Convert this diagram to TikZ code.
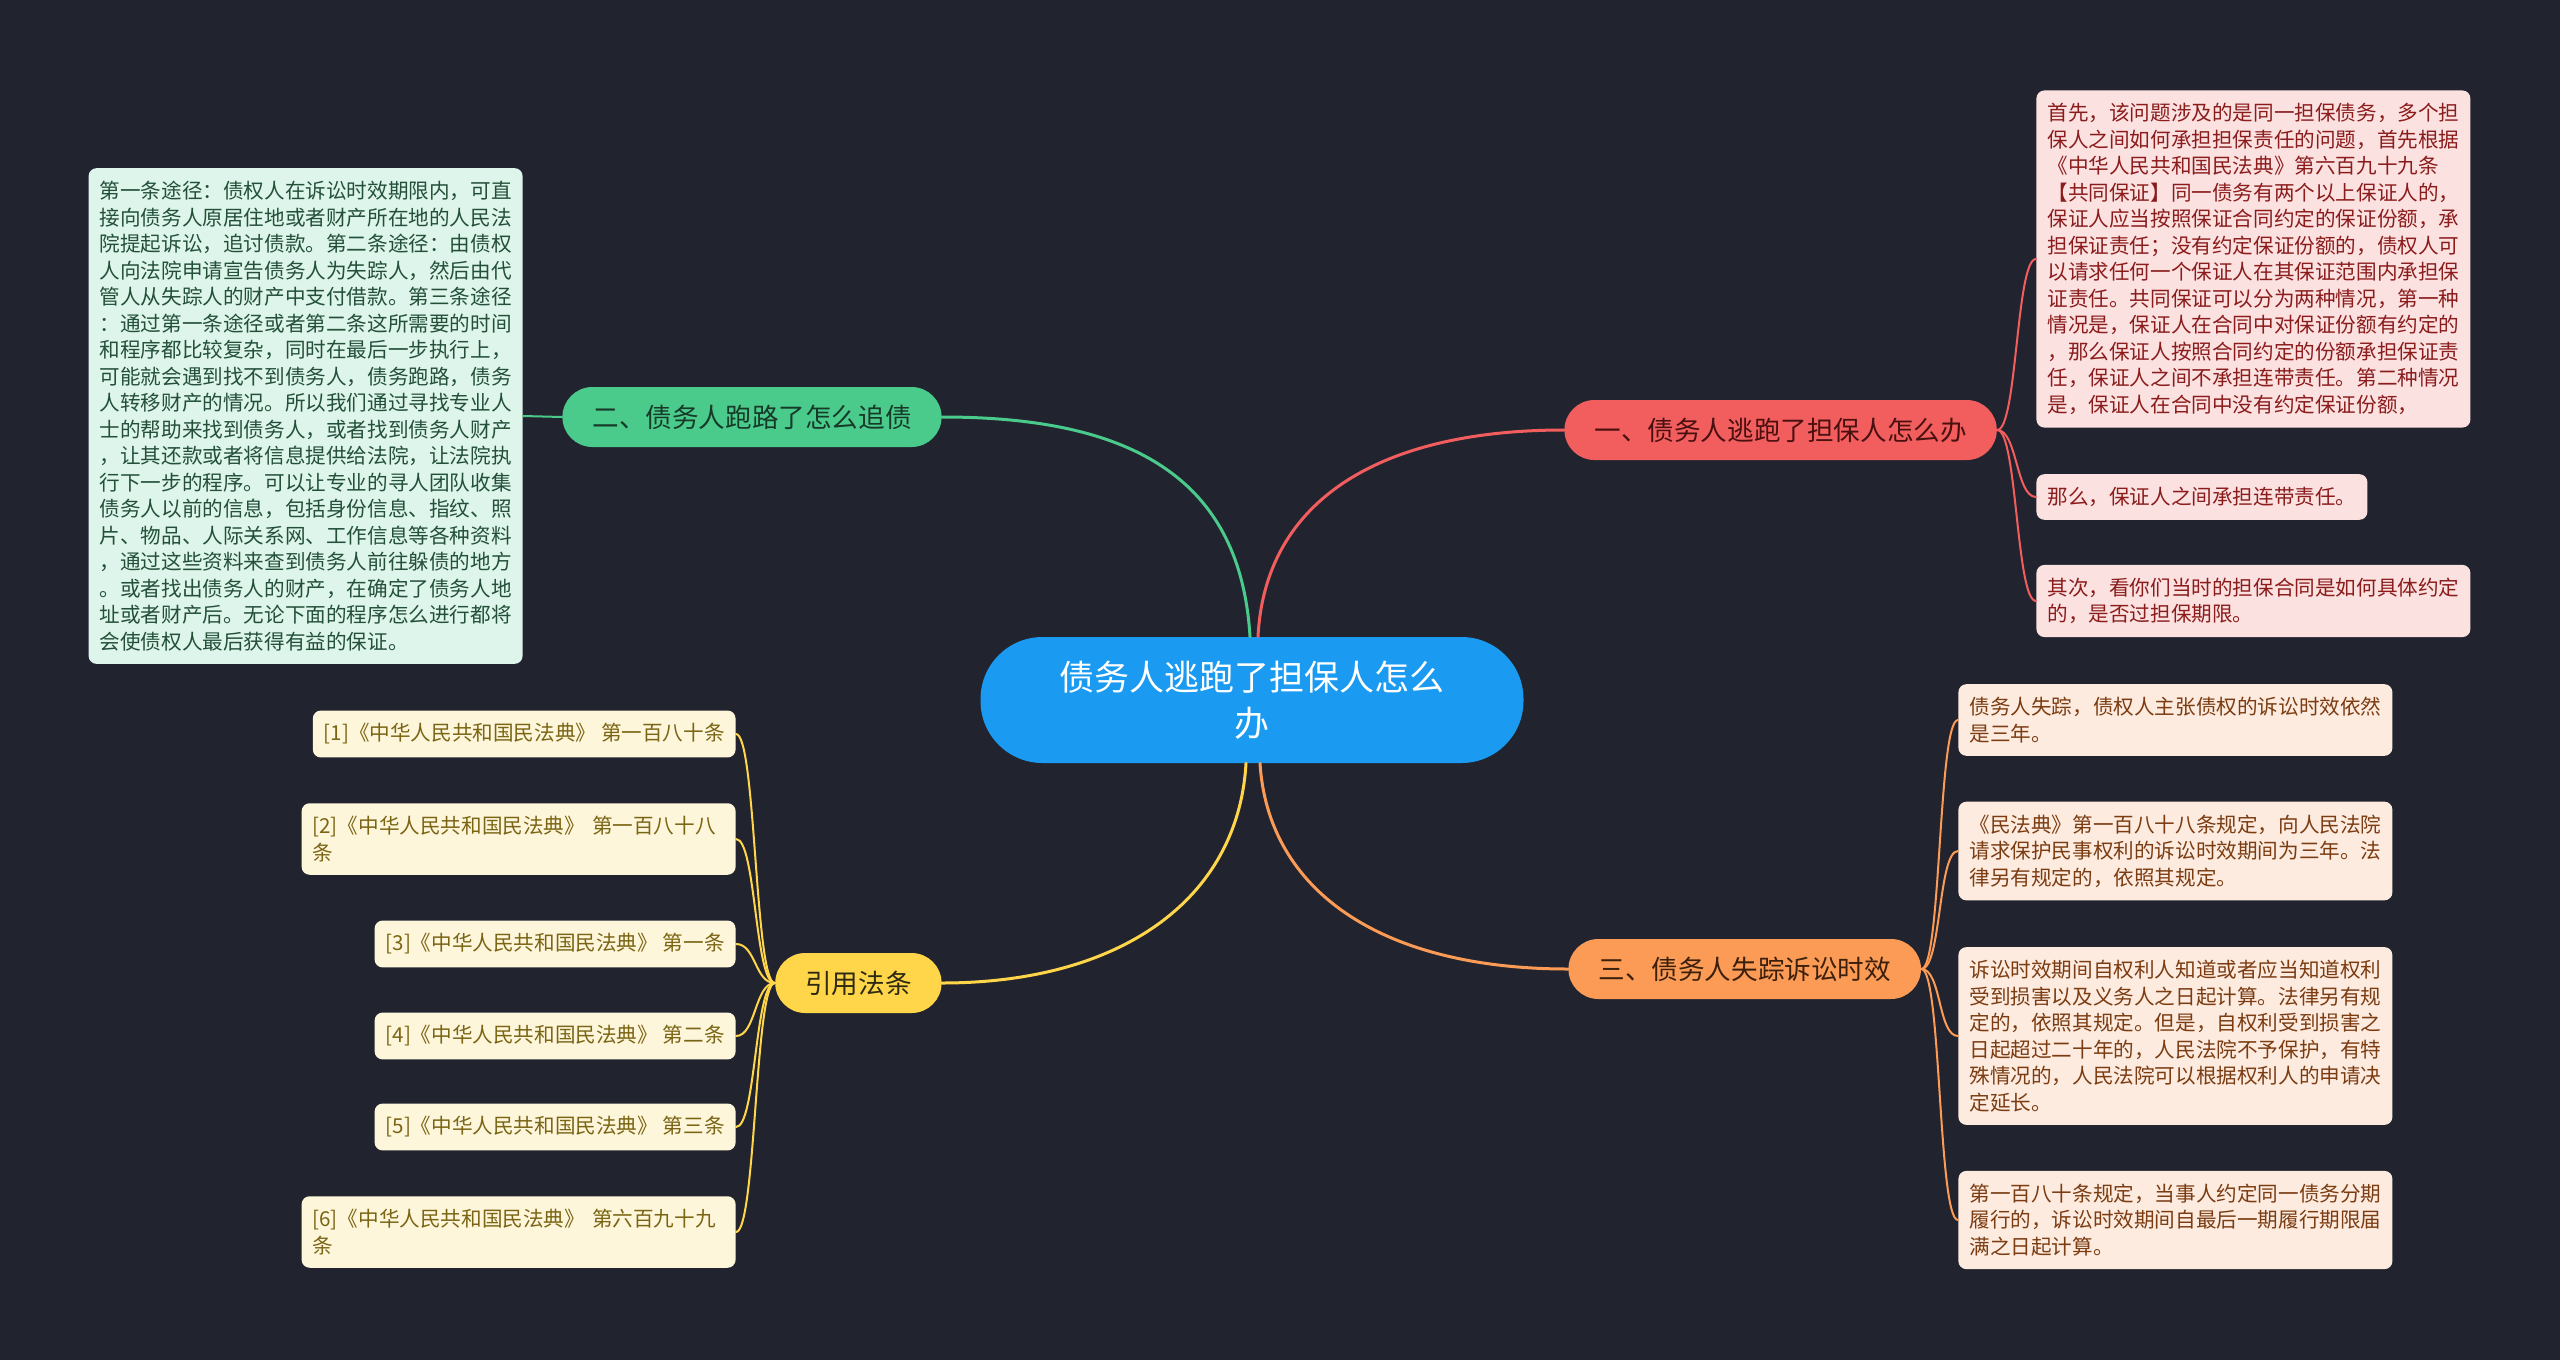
\documentclass[tikz,border=0pt]{standalone}
\usepackage{fontspec}
\setmainfont{Noto Sans CJK SC}
\usetikzlibrary{positioning}
\definecolor{mmbg}{HTML}{21242F}
\definecolor{mmblue}{HTML}{1A9AF0}
\definecolor{mmred}{HTML}{F25E5E}
\definecolor{mmredink}{HTML}{4A1010}
\definecolor{mmredleaf}{HTML}{FCE1E1}
\definecolor{mmredtext}{HTML}{8B1C1C}
\definecolor{mmgreen}{HTML}{4ACB8C}
\definecolor{mmgreenink}{HTML}{173A28}
\definecolor{mmgreenleaf}{HTML}{DDF5EA}
\definecolor{mmgreentext}{HTML}{24503A}
\definecolor{mmorange}{HTML}{FB9B55}
\definecolor{mmorangeink}{HTML}{3D200C}
\definecolor{mmorangeleaf}{HTML}{FDEBDF}
\definecolor{mmorangetext}{HTML}{7B3C12}
\definecolor{mmyellow}{HTML}{FFD54A}
\definecolor{mmyellowink}{HTML}{2E2A12}
\definecolor{mmyellowleaf}{HTML}{FEF6DB}
\definecolor{mmyellowtext}{HTML}{7A6514}
\tikzset{
  mmroot/.style={
    fill=mmblue, text=white, rounded corners=31pt, align=center,
    minimum width=271.5pt, minimum height=63pt, inner sep=0pt,
    font=\fontsize{17.5pt}{23pt}\selectfont},
  mmbranch/.style={
    rounded corners=15pt, minimum height=30pt, inner xsep=15pt,
    inner ysep=0pt, font=\fontsize{13.3pt}{16pt}\selectfont},
  mmleaf/.style={
    rounded corners=4pt, align=left, inner xsep=5.5pt, inner ysep=6.5pt,
    font=\fontsize{10.3pt}{13.25pt}\selectfont},
  mmwide/.style={text width=206pt},
  mmfit/.style={},
  mmlink/.style={line width=1.5pt, line cap=round},
  mmtwig/.style={line width=1pt, line cap=round},
}

\begin{document}
\begin{tikzpicture}[x=0.5pt, y=-0.5pt]

% Canvas.
\fill[mmbg] (0,0) rectangle (2560,1360);
\useasboundingbox (0,0) rectangle (2560,1360);

% Root and the four branches.
\node[mmroot] (root) at (1252,700) {债务人逃跑了担保人怎么\\办};
\node[mmbranch, fill=mmred, text=mmredink, anchor=west] (b1)
  at (1564,430) {一、债务人逃跑了担保人怎么办};
\node[mmbranch, fill=mmgreen, text=mmgreenink, anchor=east] (b2)
  at (942,417) {二、债务人跑路了怎么追债};
\node[mmbranch, fill=mmorange, text=mmorangeink, anchor=west] (b3)
  at (1568,969) {三、债务人失踪诉讼时效};
\node[mmbranch, fill=mmyellow, text=mmyellowink, anchor=east] (b4)
  at (942,983) {引用法条};

\draw[mmlink, draw=mmgreen] ([xshift=-1pt]root.north)
  .. controls (1240,470) and (1120,417) .. (b2.east);
\draw[mmlink, draw=mmred] ([xshift=3pt]root.north)
  .. controls (1265,500) and (1380,430) .. (b1.west);
\draw[mmlink, draw=mmyellow] ([xshift=-3pt]root.south)
  .. controls (1238,900) and (1120,983) .. (b4.east);
\draw[mmlink, draw=mmorange] ([xshift=4pt]root.south)
  .. controls (1268,890) and (1380,969) .. (b3.west);

% First branch: guarantors.
\foreach \i/\y/\txt in {%
    1/259/{首先，该问题涉及的是同一担保债务，多个担\\
      保人之间如何承担担保责任的问题，首先根据\\
      《中华人民共和国民法典》第六百九十九条\\
      【共同保证】同一债务有两个以上保证人的，\\
      保证人应当按照保证合同约定的保证份额，承\\
      担保证责任；没有约定保证份额的，债权人可\\
      以请求任何一个保证人在其保证范围内承担保\\
      证责任。共同保证可以分为两种情况，第一种\\
      情况是，保证人在合同中对保证份额有约定的\\
      ，那么保证人按照合同约定的份额承担保证责\\
      任，保证人之间不承担连带责任。第二种情况\\
      是，保证人在合同中没有约定保证份额，},
    2/497/{那么，保证人之间承担连带责任。},
    3/601/{其次，看你们当时的担保合同是如何具体约定\\
      的，是否过担保期限。}} {
  \node[mmleaf, fill=mmredleaf, text=mmredtext, anchor=west] (r\i)
    at (2036,\y) {\txt};
  \draw[mmtwig, draw=mmred] (b1.east)
    .. controls +(20,0) and +(-20,0) .. (r\i.west);
}

% Second branch: tracing the debtor.
\node[mmleaf, fill=mmgreenleaf, text=mmgreentext, anchor=east] (g1)
  at (523,416) {第一条途径：债权人在诉讼时效期限内，可直\\
    接向债务人原居住地或者财产所在地的人民法\\
    院提起诉讼，追讨债款。第二条途径：由债权\\
    人向法院申请宣告债务人为失踪人，然后由代\\
    管人从失踪人的财产中支付借款。第三条途径\\
    ：通过第一条途径或者第二条这所需要的时间\\
    和程序都比较复杂，同时在最后一步执行上，\\
    可能就会遇到找不到债务人，债务跑路，债务\\
    人转移财产的情况。所以我们通过寻找专业人\\
    士的帮助来找到债务人，或者找到债务人财产\\
    ，让其还款或者将信息提供给法院，让法院执\\
    行下一步的程序。可以让专业的寻人团队收集\\
    债务人以前的信息，包括身份信息、指纹、照\\
    片、物品、人际关系网、工作信息等各种资料\\
    ，通过这些资料来查到债务人前往躲债的地方\\
    。或者找出债务人的财产，在确定了债务人地\\
    址或者财产后。无论下面的程序怎么进行都将\\
    会使债权人最后获得有益的保证。};
\draw[mmtwig, draw=mmgreen] (b2.west)
  .. controls +(-20,0) and +(20,0) .. (g1.east);

% Third branch: limitation period.
\foreach \i/\y/\txt in {%
    1/720/{债务人失踪，债权人主张债权的诉讼时效依然\\是三年。},
    2/851/{《民法典》第一百八十八条规定，向人民法院\\
      请求保护民事权利的诉讼时效期间为三年。法\\
      律另有规定的，依照其规定。},
    3/1036/{诉讼时效期间自权利人知道或者应当知道权利\\
      受到损害以及义务人之日起计算。法律另有规\\
      定的，依照其规定。但是，自权利受到损害之\\
      日起超过二十年的，人民法院不予保护，有特\\
      殊情况的，人民法院可以根据权利人的申请决\\
      定延长。},
    4/1220/{第一百八十条规定，当事人约定同一债务分期\\
      履行的，诉讼时效期间自最后一期履行期限届\\
      满之日起计算。}} {
  \node[mmleaf, fill=mmorangeleaf, text=mmorangetext, anchor=west] (o\i)
    at (1958,\y) {\txt};
  \draw[mmtwig, draw=mmorange] (b3.east)
    .. controls +(20,0) and +(-20,0) .. (o\i.west);
}

% Fourth branch: cited articles.
\foreach \i/\y/\fitting/\txt in {%
    1/734/mmfit/{第一百八十条},
    2/839/mmwide/{第一百八十八\\条},
    3/944/mmfit/{第一条},
    4/1036/mmfit/{第二条},
    5/1127/mmfit/{第三条},
    6/1232/mmwide/{第六百九十九\\条}} {
  \node[mmleaf, fill=mmyellowleaf, text=mmyellowtext, anchor=east, \fitting]
    (y\i) at (736,\y) {[\i]《中华人民共和国民法典》 \txt};
  \draw[mmtwig, draw=mmyellow] (b4.west)
    .. controls +(-20,0) and +(20,0) .. (y\i.east);
}

\end{tikzpicture}
\end{document}
